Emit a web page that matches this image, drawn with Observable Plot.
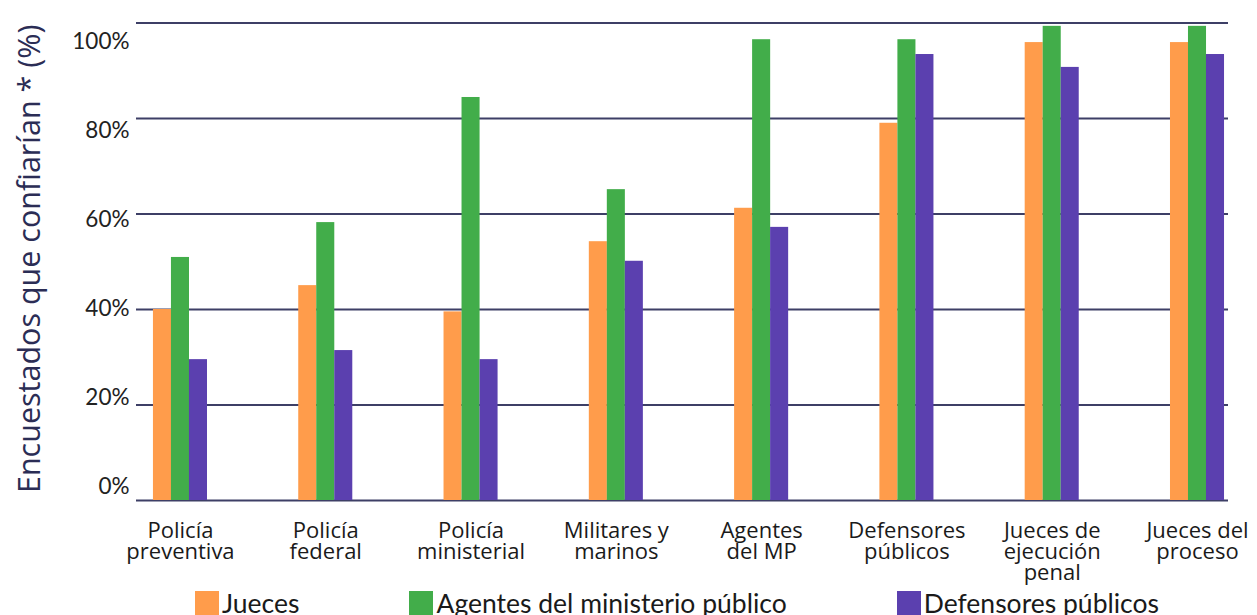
<!DOCTYPE html>
<html>
<head>
<meta charset="utf-8">
<script src="https://cdn.jsdelivr.net/npm/d3@7"></script>
<script src="https://cdn.jsdelivr.net/npm/@observablehq/plot@0.6"></script>
<style>
  html, body { margin: 0; padding: 0; background: #fff; }
  #chart { width: 1257px; height: 615px; overflow: hidden; font-family: Lato, "Noto Sans", sans-serif; }
  .legend { display: flex; flex-wrap: nowrap; align-items: flex-start; padding-left: 195px; height: 27px; width: 1500px; }
  .legend .item { display: flex; flex: 0 0 auto; align-items: flex-start; margin-right: 110px; white-space: nowrap; }
  .legend .sw { width: 24px; height: 24px; margin-top: 3px; margin-right: 3px; flex: 0 0 auto; }
  .legend .lab { font-size: 26.5px; color: #1a1a1a; line-height: 30px; white-space: nowrap; }
</style>
</head>
<body>
<div id="chart"></div>
<script>
const categories = ["Policía preventiva", "Policía federal", "Policía ministerial", "Militares y marinos", "Agentes del MP", "Defensores públicos", "Jueces de ejecución penal", "Jueces del proceso"];
const tickLabels = ["Policía\npreventiva", "Policía\nfederal", "Policía\nministerial", "Militares y\nmarinos", "Agentes\ndel MP", "Defensores\npúblicos", "Jueces de\nejecución\npenal", "Jueces del\nproceso"];
const series = ["Jueces", "Agentes del ministerio público", "Defensores públicos"];
const colors = ["#FF9C4B", "#42AD4A", "#5B40AF"];
const jueces = [40, 45, 39.5, 54.2, 61.2, 79, 95.9, 95.9];
const agentes = [50.9, 58.2, 84.4, 65.1, 96.5, 96.5, 99.3, 99.3];
const defensores = [29.5, 31.4, 29.5, 50.1, 57.2, 93.4, 90.7, 93.4];
const yTicks = [0, 20, 40, 60, 80, 100];
const yTitle = "Encuestados que confiarían * (%)";

const values = [jueces, agentes, defensores];
const rows = series.map((s, si) => categories.map((c, ci) => ({category: c, series: s, value: values[si][ci]})));
const labelOf = new Map(categories.map((c, i) => [c, tickLabels[i]]));

// per-series insets split each band into three adjacent bars
const insets = [[0, 36], [18, 18], [36, 0]];

const plot = Plot.plot({
  width: 1257,
  height: 588,
  marginLeft: 136,
  marginRight: 29,
  marginTop: 22.5,
  marginBottom: 88,
  style: {fontFamily: "Lato, 'Noto Sans', sans-serif", background: "#fff"},
  x: {type: "band", domain: categories, paddingInner: 0.628, paddingOuter: 0.072, align: 0.81, round: false, axis: null},
  y: {domain: [0, 100], axis: null},
  marks: [
    Plot.ruleY(yTicks, {stroke: "#3d3f66", strokeWidth: 2}),
    ...rows.map((r, i) => Plot.barY(r, {x: "category", y: "value", fill: colors[i], insetLeft: insets[i][0], insetRight: insets[i][1]})),
    Plot.axisX({tickSize: 0, tickPadding: 23, fontSize: 22, fontFamily: "'Open Sans', sans-serif", label: null, tickFormat: d => labelOf.get(d), lineHeight: 0.955, fill: "#1a1a1a"}),
    // y tick labels: the reference spaces them slightly tighter than the gridlines
    Plot.text(yTicks, {y: d => 2.79 + d * 0.9334, text: d => d + "%", frameAnchor: "left", textAnchor: "end", dx: -7, fontSize: 22.5, fill: "#222"}),
    Plot.text([yTitle], {frameAnchor: "left", textAnchor: "middle", rotate: -90, dx: -106, dy: -3, fontSize: 30.5, fontFamily: "'Open Sans', sans-serif", fill: "#2b2d55"})
  ]
});

const root = document.getElementById("chart");
root.appendChild(plot);

const legend = d3.select(root).append("div").attr("class", "legend");
const items = legend.selectAll(".item").data(series).join("div").attr("class", "item");
items.append("div").attr("class", "sw").style("background", (d, i) => colors[i]);
items.append("div").attr("class", "lab").text(d => d);
</script>
</body>
</html>
